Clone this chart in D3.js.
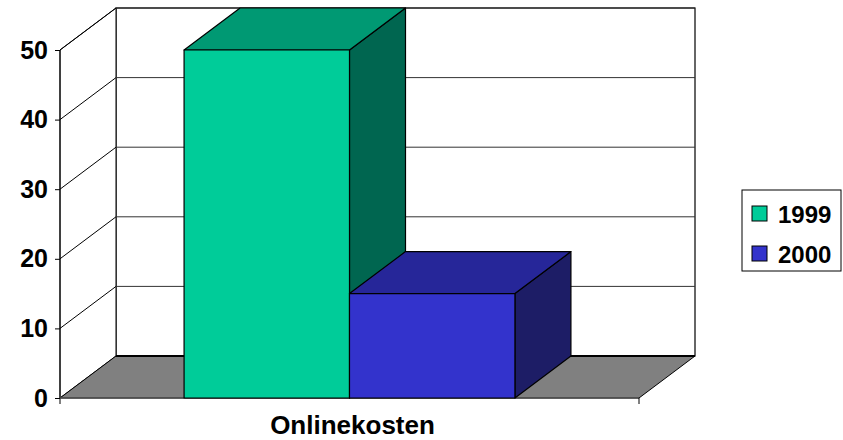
<!DOCTYPE html>
<html><head><meta charset="utf-8">
<script src="https://cdn.jsdelivr.net/npm/d3@7"></script>
<style>body{margin:0;background:#fff}svg{display:block}text{font-family:"Liberation Sans",Arial,sans-serif;font-weight:bold;fill:#000}</style>
</head><body>
<svg id="c" width="843" height="440"></svg>
<script>
const categories = ["Onlinekosten"];
const seriesNames = ["1999", "2000"];
const values1999 = [50];
const values2000 = [15];
const yTicks = [0, 10, 20, 30, 40, 50];

const frontColors = {"1999": "#00CC99", "2000": "#3333CC"};
const topColors = {"1999": "#009973", "2000": "#262699"};
const sideColors = {"1999": "#006650", "2000": "#1D1D66"};

const svg = d3.select("#c");
const DX = 56, DY = -42;
const y = d3.scaleLinear().domain([0, 50]).range([398, 50]);
const x0 = d3.scaleBand().domain(categories).range([60, 639]);
const x1 = d3.scaleBand().domain(seriesNames).range([0, x0.bandwidth()]).paddingInner(0).paddingOuter(0.75);
const xL = x0.range()[0], xR = x0.range()[1];
const y0 = y(0), yTop = y(50);

// back wall
svg.append("rect").attr("x", xL + DX).attr("y", yTop + DY).attr("width", xR - xL).attr("height", y0 - yTop)
  .attr("fill", "#fff").attr("stroke", "#000").attr("stroke-width", 1.2);
// left wall
svg.append("path").attr("d", `M${xL},${y0}L${xL+DX},${y0+DY}L${xL+DX},${yTop+DY}L${xL},${yTop}Z`)
  .attr("fill", "#fff").attr("stroke", "#000");
// gridlines
yTicks.filter(v => v > 0).forEach(v => {
  svg.append("line").attr("x1", xL).attr("y1", y(v)).attr("x2", xL + DX).attr("y2", y(v) + DY).attr("stroke", "#000");
  svg.append("line").attr("x1", xL + DX).attr("y1", y(v) + DY).attr("x2", xR + DX).attr("y2", y(v) + DY).attr("stroke", "#333");
});
// floor
svg.append("path").attr("d", `M${xL},${y0}L${xR},${y0}L${xR+DX},${y0+DY}L${xL+DX},${y0+DY}Z`)
  .attr("fill", "#808080").attr("stroke", "#000");
svg.append("line").attr("x1", xL + DX).attr("y1", y0 + DY).attr("x2", xR + DX).attr("y2", y0 + DY).attr("stroke", "#000").attr("stroke-width", 2);

// y axis
svg.append("line").attr("x1", xL).attr("y1", yTop).attr("x2", xL).attr("y2", y0 + 6).attr("stroke", "#000");
const yAxis = d3.axisLeft(y).tickValues(yTicks).tickSize(5).tickPadding(7);
const ga = svg.append("g").attr("transform", `translate(${xL},0)`).call(yAxis);
ga.select(".domain").remove();
ga.selectAll("line").attr("stroke", "#000");
ga.selectAll("text").attr("font-size", 25).attr("font-family", "Liberation Sans, Arial").attr("font-weight", "bold").attr("fill", "#000");
// x axis line & ticks
svg.append("line").attr("x1", xL).attr("y1", y0).attr("x2", xR).attr("y2", y0).attr("stroke", "#555").attr("stroke-width", 1.5);
svg.append("line").attr("x1", xR).attr("y1", y0).attr("x2", xR).attr("y2", y0 + 6).attr("stroke", "#000");

// bars
const data = [];
categories.forEach((c, i) => {
  data.push({cat: c, s: "1999", v: values1999[i]});
  data.push({cat: c, s: "2000", v: values2000[i]});
});
data.forEach(d => {
  const bx = x0(d.cat) + x1(d.s), bw = x1.bandwidth();
  const top = y(d.v), bot = y(0);
  const g = svg.append("g").attr("stroke", "#000").attr("stroke-width", 1.2).attr("stroke-linejoin", "round");
  g.append("path").attr("d", `M${bx+bw},${bot}L${bx+bw+DX},${bot+DY}L${bx+bw+DX},${top+DY}L${bx+bw},${top}Z`).attr("fill", sideColors[d.s]);
  g.append("path").attr("d", `M${bx},${top}L${bx+bw},${top}L${bx+bw+DX},${top+DY}L${bx+DX},${top+DY}Z`).attr("fill", topColors[d.s]);
  g.append("rect").attr("x", bx).attr("y", top).attr("width", bw).attr("height", bot - top).attr("fill", frontColors[d.s]);
});

// category label
svg.selectAll(".cat").data(categories).enter().append("text")
  .attr("x", d => x0(d) + x0.bandwidth() / 2 + 3).attr("y", 434)
  .attr("text-anchor", "middle").attr("font-size", 26).text(d => d);

// legend
const lg = svg.append("g");
lg.append("rect").attr("x", 742).attr("y", 190).attr("width", 99).attr("height", 81).attr("fill", "#fff").attr("stroke", "#000");
seriesNames.forEach((s, i) => {
  lg.append("rect").attr("x", 752).attr("y", 206 + i * 40).attr("width", 15).attr("height", 15)
    .attr("fill", frontColors[s]).attr("stroke", "#000");
  lg.append("text").attr("x", 778).attr("y", 223 + i * 40).attr("font-size", 24).text(s);
});
</script>
</body></html>
